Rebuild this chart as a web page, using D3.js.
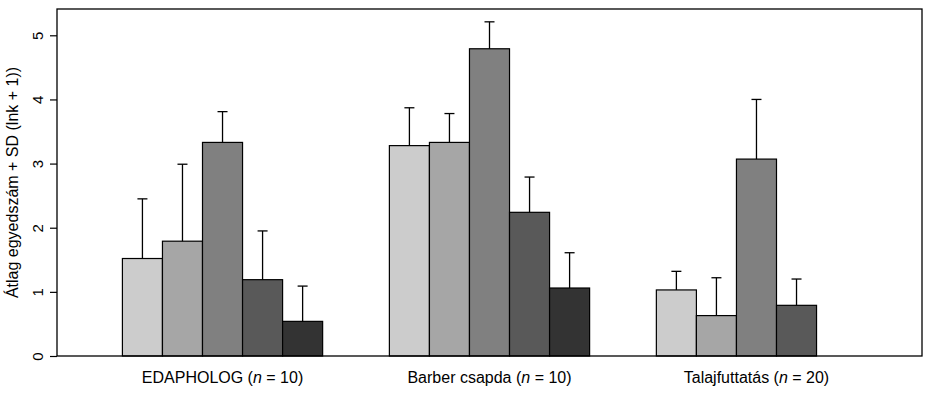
<!DOCTYPE html>
<html>
<head>
<meta charset="utf-8">
<script src="https://cdn.jsdelivr.net/npm/d3@7"></script>
<style>
  body { margin: 0; background: #fff; }
  svg { display: block; font-family: "Liberation Sans", Arial, sans-serif; }
</style>
</head>
<body>
<script>
// groups along the x axis
const groups = ["EDAPHOLOG", "Barber csapda", "Talajfuttatás"];
const groupN = [10, 10, 20];

// five series per group (mean of ln(k+1)) and mean + SD
const means = [
  [1.52, 1.79, 3.33, 1.19, 0.54],
  [3.28, 3.33, 4.79, 2.24, 1.06],
  [1.03, 0.63, 3.07, 0.79, 0]
];
const upper = [
  [2.45, 2.99, 3.81, 1.95, 1.09],
  [3.87, 3.78, 5.21, 2.79, 1.61],
  [1.32, 1.22, 4.00, 1.20, 0]
];
const series = [0, 1, 2, 3, 4];
const fills = ["#cccccc", "#a6a6a6", "#808080", "#595959", "#333333"];
const yTicks = [0, 1, 2, 3, 4, 5];

const width = 932, height = 395;
const marginTop = 9, marginRight = 10, marginBottom = 39, marginLeft = 57;

const svg = d3.select("body").append("svg")
    .attr("width", width)
    .attr("height", height)
    .attr("viewBox", [0, 0, width, height]);

const x0 = d3.scaleBand(d3.range(groups.length), [marginLeft, width - marginRight])
    .paddingInner(0.25)
    .paddingOuter(0.245);
const x1 = d3.scaleBand(series, [0, x0.bandwidth()]);
const y = d3.scaleLinear([0, 5.41], [height - marginBottom, marginTop]);

// bars
const g = svg.append("g")
  .selectAll("g")
  .data(d3.range(groups.length))
  .join("g")
    .attr("transform", i => `translate(${x0(i)},0)`);

g.selectAll("rect")
  .data(i => series.filter(s => means[i][s] > 0).map(s => ({i, s})))
  .join("rect")
    .attr("x", d => x1(d.s))
    .attr("y", d => y(means[d.i][d.s]))
    .attr("width", x1.bandwidth())
    .attr("height", d => y(0) - y(means[d.i][d.s]))
    .attr("fill", d => fills[d.s])
    .attr("stroke", "#000")
    .attr("stroke-width", 1.2);

// error bars (upper only)
const err = g.selectAll("g.err")
  .data(i => series.filter(s => upper[i][s] > 0).map(s => ({i, s})))
  .join("g")
    .attr("class", "err")
    .attr("transform", d => `translate(${x1(d.s) + x1.bandwidth() / 2},0)`)
    .attr("stroke", "#000")
    .attr("stroke-width", 1.3);

err.append("line")
    .attr("y1", d => y(means[d.i][d.s]))
    .attr("y2", d => y(upper[d.i][d.s]));
err.append("line")
    .attr("x1", -5).attr("x2", 5)
    .attr("y1", d => y(upper[d.i][d.s]))
    .attr("y2", d => y(upper[d.i][d.s]));

// box
svg.append("rect")
    .attr("x", marginLeft)
    .attr("y", marginTop)
    .attr("width", width - marginRight - marginLeft)
    .attr("height", height - marginBottom - marginTop)
    .attr("fill", "none")
    .attr("stroke", "#000")
    .attr("stroke-width", 1.3);

// y axis
const yAxis = svg.append("g")
    .attr("transform", `translate(${marginLeft},0)`)
    .call(d3.axisLeft(y).tickValues(yTicks).tickSize(7).tickFormat(d3.format("d")))
    .call(g => g.select(".domain").remove());
yAxis.selectAll("line").attr("stroke", "#000").attr("stroke-width", 1.2);
yAxis.selectAll("text")
    .attr("font-size", 15)
    .attr("fill", "#000")
    .attr("x", null)
    .attr("text-anchor", "middle")
    .attr("transform", "translate(-19,0) rotate(-90)")
    .attr("dy", "0.35em");

svg.append("text")
    .attr("transform", `translate(18,${(marginTop + height - marginBottom) / 2}) rotate(-90)`)
    .attr("text-anchor", "middle")
    .attr("font-size", 16)
    .text("Átlag egyedszám + SD (lnk + 1))");

// group labels
const lab = svg.append("g")
  .selectAll("text")
  .data(d3.range(groups.length))
  .join("text")
    .attr("x", i => x0(i) + x0.bandwidth() / 2)
    .attr("y", 383)
    .attr("text-anchor", "middle")
    .attr("font-size", 16);
lab.append("tspan").text(i => groups[i] + " (");
lab.append("tspan").attr("font-style", "italic").text("n");
lab.append("tspan").text(i => " = " + groupN[i] + ")");
</script>
</body>
</html>
